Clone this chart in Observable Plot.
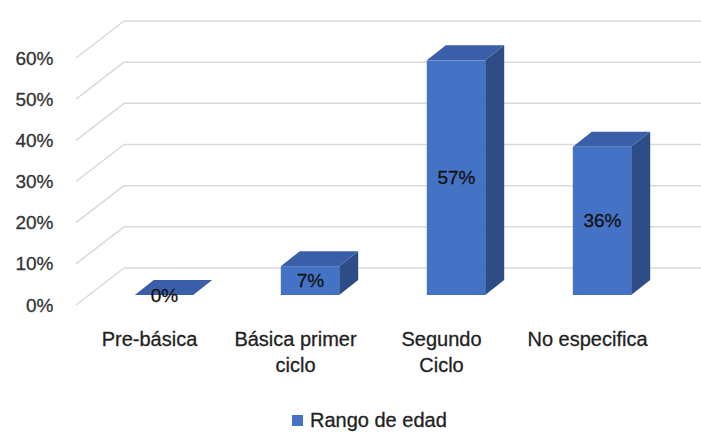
<!DOCTYPE html>
<html><head><meta charset="utf-8">
<script src="https://cdn.jsdelivr.net/npm/d3@7"></script>
<script src="https://cdn.jsdelivr.net/npm/@observablehq/plot@0.6"></script>
<style>
body{margin:0;background:#fff;font-family:"Liberation Sans",Arial,sans-serif;}
#legend{height:38px;box-sizing:border-box;padding-top:12px;padding-left:292px;display:flex;align-items:center;gap:7px;font-size:20px;color:#1f1f1f;-webkit-text-stroke:0.3px #1f1f1f;}
#legend .sw{width:11px;height:11px;background:#4472c4;}
</style>
</head><body>
<div id="chart"></div>
<div id="legend"></div>
<script>
const categories = ["Pre-básica", "Básica primer ciclo", "Segundo Ciclo", "No especifica"];
const categoryLabels = ["Pre-básica", "Básica primer\nciclo", "Segundo\nCiclo", "No especifica"];
const values = [0, 0.07, 0.57, 0.36];
const valueLabels = ["0%", "7%", "57%", "36%"];
const yTicks = [0, 0.1, 0.2, 0.3, 0.4, 0.5, 0.6];
const yTickLabels = ["0%", "10%", "20%", "30%", "40%", "50%", "60%"];
const seriesName = "Rango de edad";

const data = categories.map((c, i) => ({category: c, label: categoryLabels[i], value: values[i], text: valueLabels[i]}));
const ticks = yTicks.map((t, i) => ({t, label: yTickLabels[i]}));

const FRONT = {dx: 15, dy: -10};
const DEPTH = {dx: 19, dy: -15};
const WALL = {dx: 49, dy: -37};
const BAR_FRAC = 0.4;
const C_FRONT = "#4472c4", C_TOP = "#3a5ea8", C_SIDE = "#2d4d87";

function gridMark(index, scales, vals, dims) {
  const y = scales.y;
  const g = d3.create("svg:g").attr("stroke", "#d9d9d9").attr("stroke-width", 1.5).attr("fill", "none");
  const left = dims.marginLeft;
  for (const t of yTicks) {
    const py = y(t);
    g.append("line").attr("x1", left + 1).attr("y1", py).attr("x2", left + WALL.dx).attr("y2", py + WALL.dy);
    g.append("line").attr("x1", left + WALL.dx).attr("y1", py + WALL.dy).attr("x2", dims.width).attr("y2", py + WALL.dy);
  }
  return g.node();
}

function barsMark(index, scales, vals, dims) {
  const {x, y} = scales;
  const bwFull = (x.bandwidth && x.bandwidth() > 0) ? x.bandwidth() : (dims.width - dims.marginLeft - dims.marginRight) / categories.length;
  const bw = bwFull * BAR_FRAC;
  const g = d3.create("svg:g");
  for (const d of data) {
    const cx = x(d.category) + bwFull / 2 + FRONT.dx;
    const xl = cx - bw / 2, xr = cx + bw / 2;
    const yb = y(0) + FRONT.dy, yt = y(d.value) + FRONT.dy;
    g.append("path").attr("fill", C_SIDE)
      .attr("d", `M${xr},${yt}L${xr + DEPTH.dx},${yt + DEPTH.dy}L${xr + DEPTH.dx},${yb + DEPTH.dy}L${xr},${yb}Z`);
    g.append("path").attr("fill", C_TOP)
      .attr("d", `M${xl},${yt}L${xr},${yt}L${xr + DEPTH.dx},${yt + DEPTH.dy}L${xl + DEPTH.dx},${yt + DEPTH.dy}Z`);
    g.append("rect").attr("fill", C_FRONT).attr("x", xl).attr("y", yt).attr("width", bw).attr("height", Math.max(0, yb - yt));
  }
  return g.node();
}

const chart = Plot.plot({
  width: 701,
  height: 395,
  marginLeft: 75,
  marginRight: 41,
  marginTop: 58,
  marginBottom: 90,
  style: {fontFamily: "Liberation Sans, Arial, sans-serif", background: "#fff"},
  x: {type: "band", domain: categories, padding: 0, axis: null},
  y: {domain: [0, 0.6], axis: null},
  marks: [
    gridMark,
    barsMark,
    Plot.text(ticks, {y: "t", text: "label", frameAnchor: "left", textAnchor: "end", dx: -22, fontSize: 19, fill: "#333", stroke: "#333", strokeWidth: 0.3}),
    Plot.text(data, {x: "category", y: d => d.value / 2, text: "text", dx: FRONT.dx, dy: FRONT.dy, fontSize: 19, fill: "#111", stroke: "#111", strokeWidth: 0.3}),
    Plot.text(data, {x: "category", y: () => 0, text: "label", dy: 22, lineAnchor: "top", lineHeight: 1.3, fontSize: 20, fill: "#1f1f1f", stroke: "#1f1f1f", strokeWidth: 0.3})
  ]
});
document.getElementById("chart").appendChild(chart);

const legend = document.getElementById("legend");
legend.innerHTML = `<span class="sw"></span><span>${seriesName}</span>`;
</script>
</body></html>
